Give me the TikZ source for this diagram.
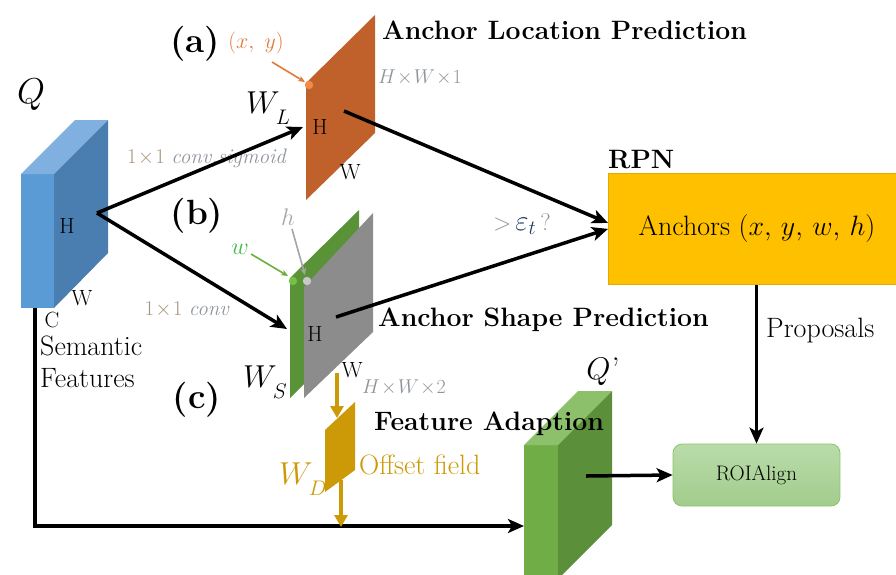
\RequirePackage{fix-cm}
\documentclass[tikz,border=0pt]{standalone}
\usepackage{graphicx}
\usetikzlibrary{arrows.meta,calc,shadings}

\definecolor{qfront}{HTML}{5B9BD5}
\definecolor{qtop}{HTML}{7FB0DF}
\definecolor{qside}{HTML}{4A7DB0}
\definecolor{locfill}{HTML}{C0612B}
\definecolor{locdot}{HTML}{F08A45}
\definecolor{shpgreen}{HTML}{5A9238}
\definecolor{shpgray}{HTML}{8C8C8C}
\definecolor{offs}{HTML}{CC9A06}
\definecolor{rpnfill}{HTML}{FFC000}
\definecolor{rpnedge}{HTML}{E3AA00}
\definecolor{roitop}{HTML}{B9DCAA}
\definecolor{roibot}{HTML}{A2CC8C}
\definecolor{roiedge}{HTML}{8CC26A}
\definecolor{adfront}{HTML}{70AD47}
\definecolor{adtop}{HTML}{8DC06A}
\definecolor{adside}{HTML}{5B8F3A}
\definecolor{lblgray}{HTML}{8E949C}
\definecolor{lbltan}{HTML}{A8957C}
\definecolor{xyorange}{HTML}{E07A3A}
\definecolor{wgreen}{HTML}{3DBB4A}
\definecolor{warrow}{HTML}{6AAF3A}
\definecolor{wdot}{HTML}{72C244}
\definecolor{harrow}{HTML}{A5A5A5}
\definecolor{hdot}{HTML}{C8C8C8}
\definecolor{epsblue}{HTML}{1F3A60}

\newcommand\pxsize[1]{\fontsize{#1}{#1}\selectfont}
% math symbols set at 24pt and enlarged by a factor
\newcommand\bigmath[2]{\scalebox{#1}{\pxsize{24}$#2$}}
% weight symbol W with a deeply lowered subscript
\newcommand\weightsym[1]{\scalebox{1.32}{\pxsize{24}$W$\kern-3pt\raisebox{-9pt}{\pxsize{16}$#1$}}}

\tikzset{
  bigarrow/.style={line width=3.5pt, -{Stealth[length=16pt,width=14pt,inset=4pt]}},
  offarrow/.style={line width=3.5pt, offs, -{Triangle[length=12pt,width=13pt]}},
  thinarrow/.style={line width=1.6pt, -{Stealth[length=7pt,width=6pt]}},
  dimlabel/.style={font=\pxsize{22}, inner sep=0pt},
  biglabel/.style={font=\pxsize{26.6}\bfseries, inner sep=0pt},
  plain/.style={font=\pxsize{28}, inner sep=0pt},
  graylabel/.style={font=\pxsize{20}, text=lblgray, inner sep=0pt},
  partlabel/.style={font=\pxsize{35}\bfseries, inner sep=0pt},
  symlabel/.style={inner sep=0pt},
}

\begin{document}
\begin{tikzpicture}[x=1pt,y=-1pt]
\useasboundingbox (0,0) rectangle (896,574);

% ---- semantic features Q (blue cuboid) ----
\fill[qfront] (21,174) rectangle (54,308);
\fill[qtop] (21,174) -- (54,174) -- (108,120) -- (75,120) -- cycle;
\fill[qside] (54,174) -- (108,120) -- (108,253) -- (54,308) -- cycle;
\node[symlabel] (Q) at (31,95) {\bigmath{1.5}{Q}};
\node[dimlabel] (qH) at (67,226) {H};
\node[dimlabel] (qW) at (82,298) {W};
\node[dimlabel] (qC) at (52,320) {C};
\node[plain, align=left, anchor=north west, font=\fontsize{28}{32}\selectfont] (sem) at (40,336) {Semantic\\Features};
\coordinate (qout) at (97,213);
\coordinate (qbot) at (35,308);

% ---- anchor location branch ----
\fill[locfill] (306,83) -- (375,15) -- (375,133) -- (306,200) -- cycle;
\coordinate (locin) at (303,127);
\coordinate (locout) at (344,111);
\node[dimlabel] (lH) at (320,127) {H};
\node[dimlabel] (lW) at (350,172) {W};
\fill[locdot] (309,85) circle (4.2);
\coordinate (locdotc) at (305,82);
\node[font=\pxsize{22}, text=xyorange, inner sep=0pt] (xy) at (256,43) {$(x,\ y)$};
\node[partlabel] (pa) at (195,44) {(a)};
\node[symlabel, anchor=base west] (WL) at (246,113) {\weightsym{L}};
\node[graylabel, anchor=west] (dimL) at (378,77) {$H\!\times\! W\!\times\! 1$};
\node[biglabel, anchor=west] (titleL) at (382,30) {Anchor Location Prediction};
\node[graylabel, font=\pxsize{21}] (convsig) at (207,158) {\textcolor{lbltan}{$1\!\times\!1$} \textit{conv,sigmoid}};

% ---- anchor shape branch ----
\fill[shpgreen] (290,278) -- (359,210) -- (359,330) -- (290,398) -- cycle;
\fill[shpgray] (304,287) -- (373,213) -- (373,332) -- (304,398) -- cycle;
\coordinate (shpin) at (287,329);
\coordinate (shpout) at (336,317);
\node[dimlabel] (sH) at (315,334) {H};
\node[dimlabel] (sW) at (352,370) {W};
\fill[wdot] (293,281) circle (4.2);
\fill[hdot] (307,281) circle (4.2);
\coordinate (wdotc) at (288,276);
\coordinate (hdotc) at (305,275);
\node[font=\pxsize{24}, text=wgreen, inner sep=0pt] (wl) at (240,249) {$w$};
\node[font=\pxsize{24}, text=harrow, inner sep=0pt] (hl) at (288,217) {$h$};
\node[partlabel] (pb) at (197,216) {(b)};
\node[partlabel] (pc) at (197,400) {(c)};
\node[symlabel, anchor=base west] (WS) at (243,387) {\weightsym{S}};
\node[graylabel, anchor=west] (dimS) at (362,387) {$H\!\times\! W\!\times\! 2$};
\node[biglabel, anchor=west] (titleS) at (378,320) {Anchor Shape Prediction};
\node[graylabel, font=\pxsize{21}] (conv) at (187,310) {\textcolor{lbltan}{$1\!\times\!1$} \textit{conv}};

% ---- feature adaption ----
\fill[offs] (325,430) -- (355,402) -- (355,470) -- (325,492) -- cycle;
\coordinate (offtop) at (337,373);
\coordinate (offin) at (337,418);
\coordinate (offout) at (341,480);
\coordinate (offdown) at (341,527);
\node[symlabel, text=offs, anchor=base west] (WD) at (279,484) {\weightsym{D}};
\node[plain, text=offs, anchor=west] (offlbl) at (359,465) {Offset field};

% adapted features Q' (green cuboid)
\fill[adfront] (524,445) rectangle (558,579);
\fill[adtop] (524,445) -- (558,445) -- (612,391) -- (578,391) -- cycle;
\fill[adside] (558,445) -- (612,391) -- (612,525) -- (558,579) -- cycle;
\coordinate (adin) at (524,526);
\coordinate (adout) at (586,476);
\node[symlabel] (Qp) at (603,372) {\scalebox{1.3}{\pxsize{24}$Q$\kern1pt’}};
\node[biglabel, anchor=west] (titleA) at (374,424) {Feature Adaption};

% ---- RPN and ROIAlign ----
\node[draw=rpnedge, fill=rpnfill, line width=0.8pt, minimum width=298pt, minimum height=111pt,
      anchor=north west, inner sep=0pt] (rpn) at (608,173) {};
\node[inner sep=0pt] (anch) at (757,228) {\scalebox{1.167}{\pxsize{24}Anchors $(x,\,y,\,w,\,h)$}};
\node[biglabel, anchor=west] (rpnlbl) at (608,160) {RPN};
\node[draw=roiedge, line width=0.8pt, top color=roitop, bottom color=roibot, rounded corners=9pt,
      minimum width=167pt, minimum height=62pt, inner sep=0pt, font=\pxsize{21}] (roi) at (756.5,475) {ROIAlign};
\node[plain, anchor=west] (prop) at (766,331) {Proposals};
\node[inner sep=0pt, font=\pxsize{24}] (eps) at (522,224)
  {\textcolor{lblgray}{$>$}\,{\color{epsblue}\bigmath{1.2}{\varepsilon_t}}\,\textcolor{lblgray}{?}};

% ---- connectors ----
\draw[bigarrow] (qout) -- (locin);
\draw[bigarrow] (qout) -- (shpin);
\draw[bigarrow] (locout) -- ($(rpn.west)+(0,-6)$);
\draw[bigarrow] (shpout) -- ($(rpn.west)+(0,0)$);
\draw[bigarrow] (rpn.south -| roi.north) -- (roi.north);
\draw[bigarrow] (adout) -- (roi.west);
\draw[bigarrow] (qbot) -- (qbot |- adin) -- (adin);
\draw[offarrow] (offtop) -- (offin);
\draw[offarrow] (offout) -- (offdown);
\draw[thinarrow, xyorange] (272,62) -- (locdotc);
\draw[thinarrow, warrow] (251,254) -- (wdotc);
\draw[thinarrow, harrow] (292,229) -- (hdotc);
\end{tikzpicture}
\end{document}
